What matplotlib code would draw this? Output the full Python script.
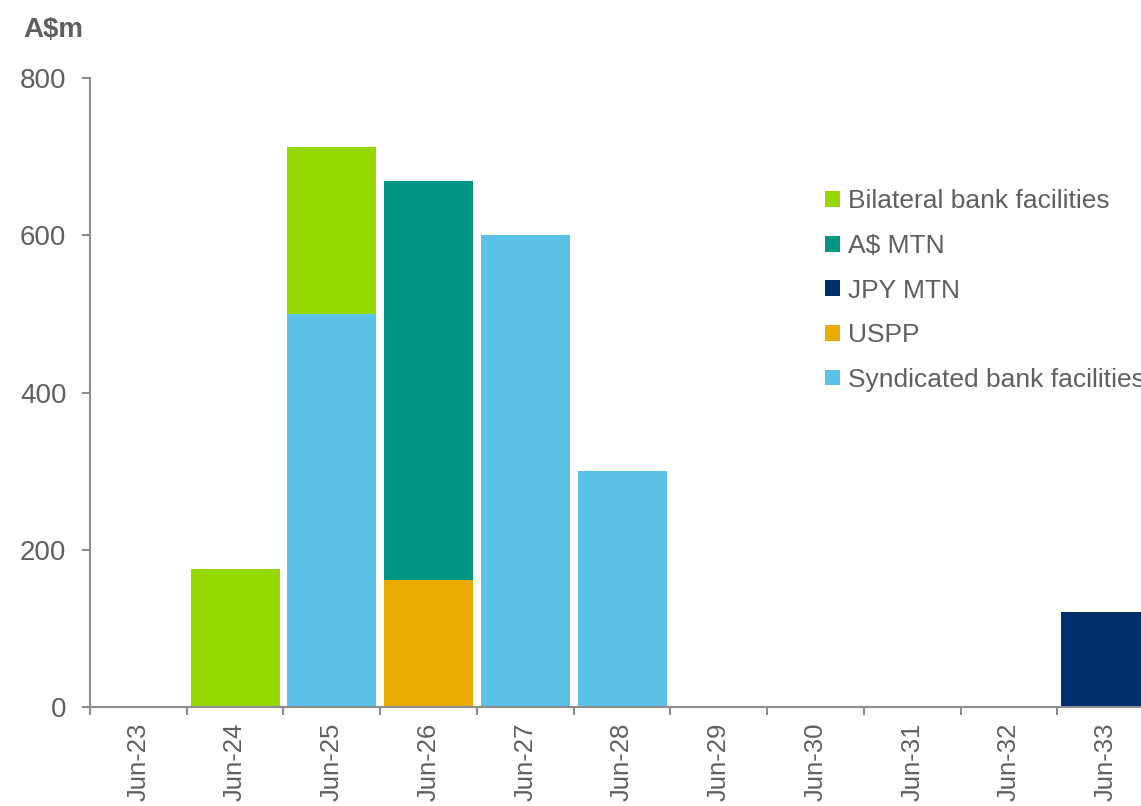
import numpy as np
import matplotlib.pyplot as plt

plt.rcParams['font.family'] = ['Liberation Sans', 'DejaVu Sans']

years = ['Jun-23', 'Jun-24', 'Jun-25', 'Jun-26', 'Jun-27', 'Jun-28',
         'Jun-29', 'Jun-30', 'Jun-31', 'Jun-32', 'Jun-33']

# A$m by facility type (stack order bottom -> top)
syndicated = [0, 0, 500, 0, 600, 300, 0, 0, 0, 0, 0]
uspp = [0, 0, 0, 162, 0, 0, 0, 0, 0, 0, 0]
jpy_mtn = [0, 0, 0, 0, 0, 0, 0, 0, 0, 0, 121]
aud_mtn = [0, 0, 0, 507, 0, 0, 0, 0, 0, 0, 0]
bilateral = [0, 175, 212, 0, 0, 0, 0, 0, 0, 0, 0]

series = [
    ('Syndicated bank facilities', syndicated, '#5BC2E7'),
    ('USPP', uspp, '#EAAB00'),
    ('JPY MTN', jpy_mtn, '#002F6C'),
    ('A$ MTN', aud_mtn, '#009681'),
    ('Bilateral bank facilities', bilateral, '#97D700'),
]

text_col = '#5f5f5f'
axis_col = '#8c8c8c'

fig = plt.figure(figsize=(11.41, 8.06), dpi=100)
ax = fig.add_axes([0.0789, 0.1228, 0.9325, 0.7804])

x = np.arange(len(years))
bottom = np.zeros(len(years))
handles = []
for name, vals, col in series:
    vals = np.array(vals, dtype=float)
    b = ax.bar(x, vals, width=0.92, bottom=bottom, color=col, label=name)
    handles.append(b)
    bottom += vals

ax.set_xlim(-0.5, len(years) - 0.5)
ax.set_ylim(0, 800)
ax.set_yticks([0, 200, 400, 600, 800])

# ticks sit on the category boundaries, labels in the middle
ax.set_xticks(np.arange(-0.5, len(years), 1.0))
ax.set_xticklabels([])
ax.set_xticks(x, minor=True)
ax.set_xticklabels(years, minor=True, rotation=90)
ax.tick_params(axis='x', which='minor', length=0, pad=11, labelsize=18.5, labelcolor=text_col)
ax.tick_params(axis='x', which='major', length=6, width=1.5, color=axis_col, direction='out')
ax.tick_params(axis='y', length=6, width=1.5, color=axis_col, pad=11,
               labelsize=20, labelcolor=text_col)

for s in ['top', 'right']:
    ax.spines[s].set_visible(False)
for s in ['left', 'bottom']:
    ax.spines[s].set_color(axis_col)
    ax.spines[s].set_linewidth(1.5)

fig.text(0.02, 0.963, 'A$m', fontsize=20, fontweight='bold', color=text_col, va='center')

leg = fig.legend(handles=handles[::-1], loc='upper left', bbox_to_anchor=(0.714, 0.778),
                 frameon=False, fontsize=19, labelcolor=text_col,
                 handlelength=0.55, handleheight=0.55, handletextpad=0.3,
                 labelspacing=0.78, borderaxespad=0)

fig.savefig('out.png', dpi=100)
